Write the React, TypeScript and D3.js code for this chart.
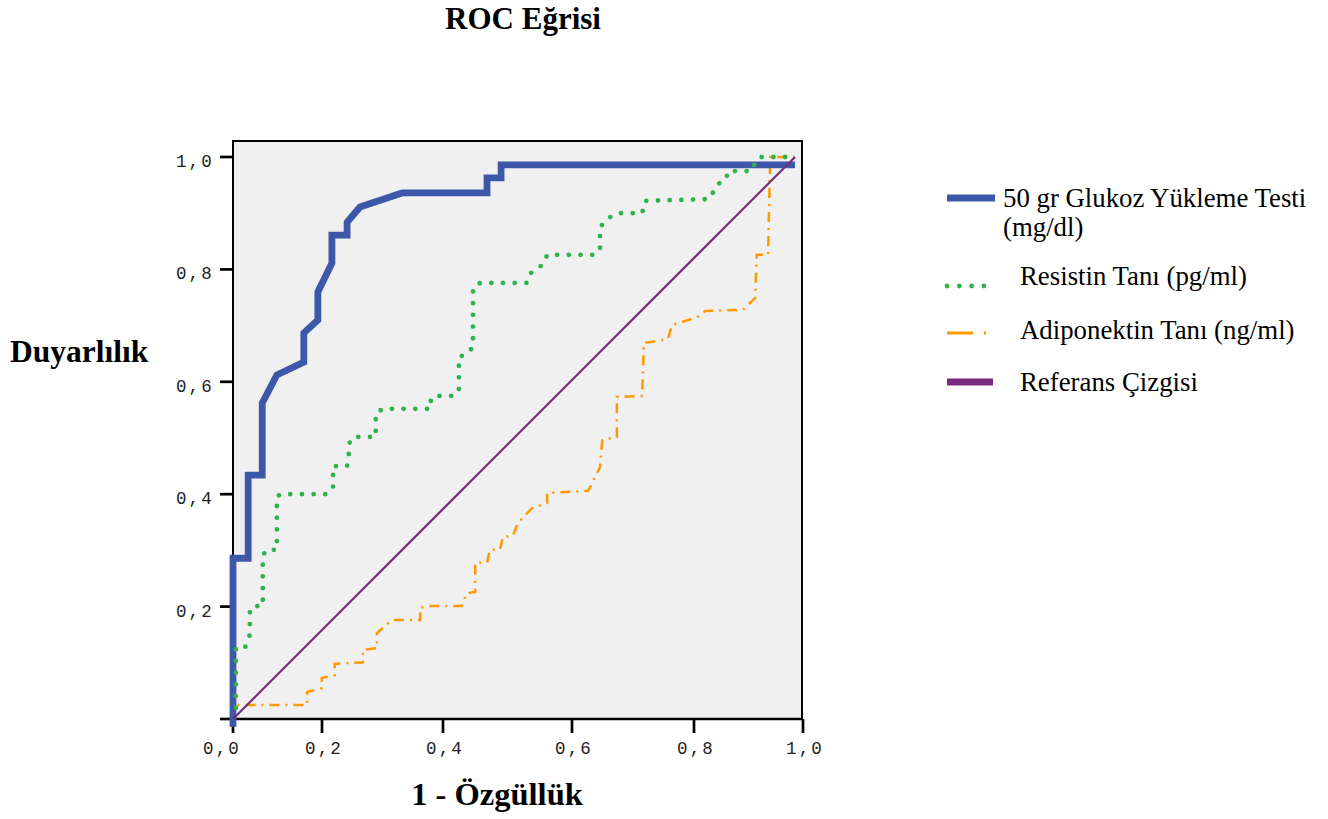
import React from 'react'
import * as d3 from 'd3'

// ROC curves, values: [1 - specificity, sensitivity]
const glukozPoints: [number, number][] = [
  [0, -0.014], [0, 0.286], [0.027, 0.286], [0.027, 0.434], [0.052, 0.434],
  [0.052, 0.562], [0.078, 0.612], [0.126, 0.635], [0.126, 0.687], [0.151, 0.71],
  [0.151, 0.76], [0.176, 0.811], [0.176, 0.861], [0.203, 0.861], [0.203, 0.884],
  [0.226, 0.911], [0.301, 0.936], [0.452, 0.936], [0.452, 0.963], [0.477, 0.963],
  [0.477, 0.986], [1.0, 0.986],
]

const resistinPoints: [number, number][] = [
  [0.005, 0.02], [0.005, 0.126], [0.021, 0.126], [0.03, 0.15], [0.03, 0.194], [0.036, 0.201],
  [0.053, 0.201], [0.053, 0.29], [0.059, 0.301], [0.078, 0.301], [0.078, 0.395],
  [0.084, 0.4], [0.167, 0.4], [0.178, 0.411], [0.178, 0.45], [0.203, 0.45],
  [0.206, 0.468], [0.206, 0.489], [0.214, 0.502], [0.254, 0.502], [0.254, 0.544],
  [0.267, 0.552], [0.352, 0.552], [0.352, 0.571], [0.368, 0.575], [0.39, 0.575],
  [0.402, 0.582], [0.402, 0.644], [0.418, 0.651], [0.427, 0.662], [0.427, 0.767],
  [0.44, 0.776], [0.523, 0.776], [0.528, 0.792], [0.553, 0.81], [0.559, 0.826],
  [0.641, 0.826], [0.653, 0.834], [0.653, 0.875], [0.667, 0.891], [0.685, 0.9],
  [0.728, 0.9], [0.733, 0.922], [0.847, 0.925], [0.863, 0.952], [0.877, 0.959],
  [0.881, 0.975], [0.923, 0.975], [0.931, 0.995], [0.94, 1.0], [1.0, 1.0],
]

const adiponektinPoints: [number, number][] = [
  [0, 0], [0.005, 0.025], [0.132, 0.025], [0.132, 0.048], [0.158, 0.055],
  [0.158, 0.073], [0.181, 0.078], [0.181, 0.098], [0.231, 0.101], [0.231, 0.123],
  [0.256, 0.126], [0.256, 0.153], [0.283, 0.176], [0.333, 0.176], [0.333, 0.198],
  [0.347, 0.201], [0.407, 0.201], [0.416, 0.224], [0.431, 0.226], [0.431, 0.278],
  [0.452, 0.278], [0.457, 0.301], [0.475, 0.301], [0.48, 0.324], [0.498, 0.326],
  [0.507, 0.349], [0.532, 0.375], [0.559, 0.384], [0.559, 0.402], [0.632, 0.406],
  [0.653, 0.448], [0.657, 0.496], [0.683, 0.502], [0.683, 0.573], [0.728, 0.575],
  [0.731, 0.669], [0.774, 0.676], [0.781, 0.701], [0.826, 0.715], [0.84, 0.726],
  [0.907, 0.728], [0.929, 0.749], [0.932, 0.826], [0.952, 0.826], [0.956, 1.0],
  [1.0, 1.0],
]

const referencePoints: [number, number][] = [[0, 0], [1, 1]]

const tickValues = [0, 0.2, 0.4, 0.6, 0.8, 1.0]
const tickLabels = ['0,0', '0,2', '0,4', '0,6', '0,8', '1,0']

const seriesNames = [
  ['50 gr Glukoz Yükleme Testi', '(mg/dl)'],
  ['Resistin Tanı (pg/ml)'],
  ['Adiponektin Tanı (ng/ml)'],
  ['Referans Çizgisi'],
]

const BLUE = '#3e58a9'
const GREEN = '#2eb34a'
const ORANGE = '#ff9900'
const PURPLE = '#7a2a7e'

export default function App() {
  const width = 1328, height = 819

  const x = d3.scaleLinear().domain([0, 1]).range([233, 795])
  const y = d3.scaleLinear().domain([0, 1]).range([719, 157])
  // the x tick marks in the picture are not evenly spread
  const xTick = d3.scaleLinear().domain(tickValues).range([233, 322, 443, 572, 694, 803])

  const line = d3.line<[number, number]>()
    .x(d => x(d[0]))
    .y(d => y(d[1]))

  const frame = {x0: 233, x1: 802, y0: 141, y1: 719}

  const serif = '"Liberation Serif", "Times New Roman", serif'
  const mono = '"Liberation Mono", "DejaVu Sans Mono", monospace'

  const legendY = [198, 286, 333, 382]
  const legendFont = 26.8

  return (
    <svg width={width} height={height}
      style={{position: 'absolute', left: 0, top: 0, background: '#fff'}}>
      <text x={523} y={29} textAnchor="middle" fontFamily={serif}
        fontWeight="bold" fontSize={31}>ROC Eğrisi</text>

      <rect x={frame.x0} y={frame.y0} width={frame.x1 - frame.x0} height={frame.y1 - frame.y0}
        fill="#f0f0f0" stroke="#000" strokeWidth={2} />

      {/* y axis */}
      {tickValues.map((t, i) => (
        <g key={'y' + i}>
          <line x1={220} x2={frame.x0} y1={y(t)} y2={y(t)} stroke="#000" strokeWidth={2.7} />
          {i > 0 && (
            <text x={214} y={y(t) + 10} textAnchor="end" fontFamily={mono}
              fontSize={17.5} letterSpacing={2.2} fill="#222">{tickLabels[i]}</text>
          )}
        </g>
      ))}

      {/* x axis */}
      <line x1={frame.x0} x2={803} y1={frame.y1} y2={frame.y1} stroke="#000" strokeWidth={2.5} />
      {tickValues.map((t, i) => (
        <g key={'x' + i}>
          <line x1={xTick(t)} x2={xTick(t)} y1={frame.y1} y2={733} stroke="#000" strokeWidth={2.7} />
          <text x={i === 0 ? xTick(t) - 11 : xTick(t) + 2} y={754} textAnchor="middle"
            fontFamily={mono} fontSize={17.5} letterSpacing={2.2} fill="#222">{tickLabels[i]}</text>
        </g>
      ))}

      <path d={line(adiponektinPoints) || ''} fill="none" stroke={ORANGE} strokeWidth={2.5}
        strokeDasharray="10 6 2 6" />
      <path d={line(glukozPoints) || ''} fill="none" stroke={BLUE} strokeWidth={6.8} />
      <path d={line(resistinPoints) || ''} fill="none" stroke={GREEN} strokeWidth={4.8}
        strokeLinecap="round" strokeDasharray="0 11.7" />
      <path d={line(referencePoints) || ''} fill="none" stroke={PURPLE} strokeWidth={2.2} />

      <text x={10} y={362} fontFamily={serif} fontWeight="bold" fontSize={31.5}>Duyarlılık</text>
      <text x={497} y={805} textAnchor="middle" fontFamily={serif} fontWeight="bold"
        fontSize={32.5}>1 - Özgüllük</text>

      {/* legend */}
      <line x1={947} x2={995} y1={legendY[0]} y2={legendY[0]} stroke={BLUE} strokeWidth={7} />
      <text x={1003} y={207} fontFamily={serif} fontSize={legendFont}>{seriesNames[0][0]}</text>
      <text x={1003} y={236} fontFamily={serif} fontSize={legendFont}>{seriesNames[0][1]}</text>

      <line x1={947} x2={990} y1={legendY[1]} y2={legendY[1]} stroke={GREEN} strokeWidth={4.8}
        strokeLinecap="round" strokeDasharray="0 12.3" />
      <text x={1020} y={285} fontFamily={serif} fontSize={legendFont}>{seriesNames[1][0]}</text>

      <line x1={947} x2={988} y1={legendY[2]} y2={legendY[2]} stroke={ORANGE} strokeWidth={2.8}
        strokeDasharray="26 11 2 20" />
      <text x={1020} y={339} fontFamily={serif} fontSize={legendFont}>{seriesNames[2][0]}</text>

      <line x1={947} x2={993} y1={legendY[3]} y2={legendY[3]} stroke={PURPLE} strokeWidth={7} />
      <text x={1020} y={391} fontFamily={serif} fontSize={legendFont}>{seriesNames[3][0]}</text>
    </svg>
  )
}
